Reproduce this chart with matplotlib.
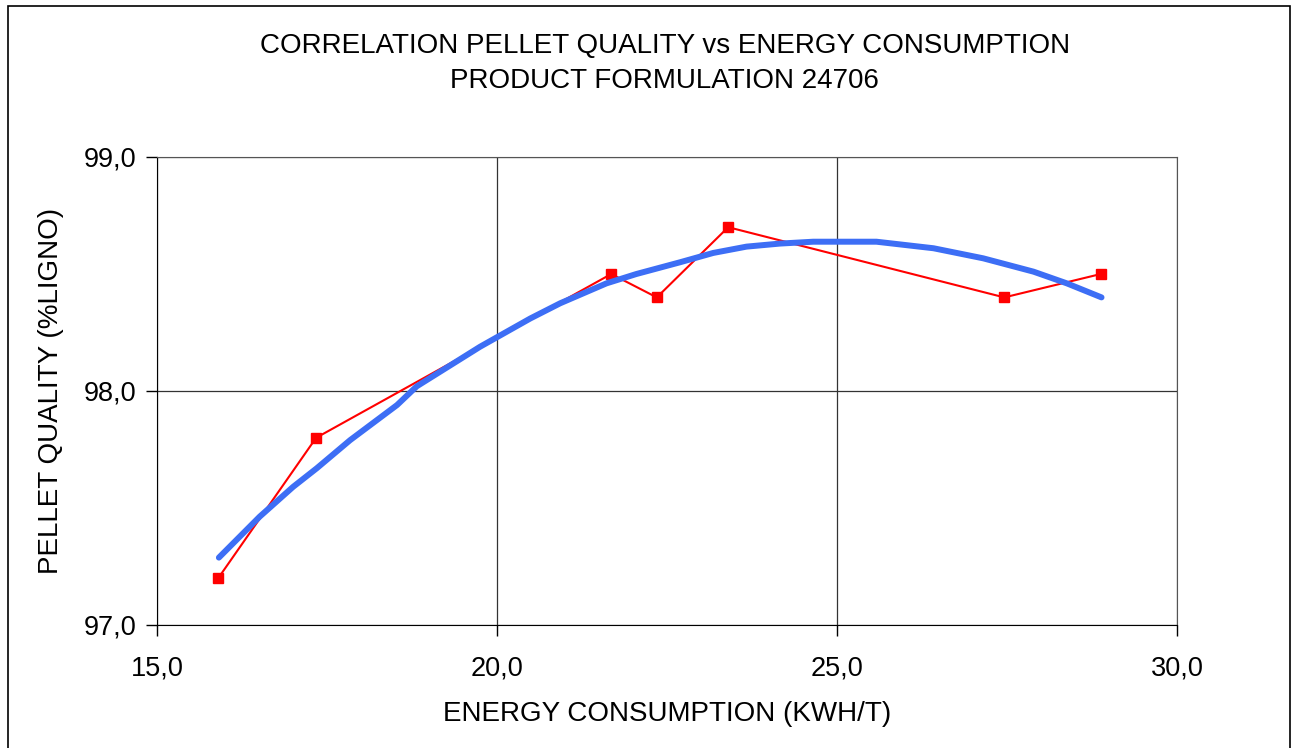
import matplotlib.pyplot as plt
import matplotlib.ticker as mticker
from matplotlib.patches import Rectangle

# measured points (red)
energy = [15.9, 17.34, 21.68, 22.35, 23.4, 27.46, 28.88]
quality = [97.2, 97.8, 98.5, 98.4, 98.7, 98.4, 98.5]

# trend line (blue)
trend_x = [15.91, 16.51, 17.0, 17.35, 17.84, 18.53, 18.82, 19.75, 20.49, 20.93,
           21.61, 22.05, 22.69, 23.18, 23.67, 24.16, 24.65, 25.58, 26.42, 27.15,
           27.89, 28.38, 28.89]
trend_y = [97.288, 97.463, 97.59, 97.67, 97.79, 97.94, 98.02, 98.189, 98.31, 98.375,
           98.46, 98.50, 98.55, 98.59, 98.617, 98.63, 98.638, 98.638, 98.61, 98.567,
           98.51, 98.46, 98.40]

plt.rcParams['font.family'] = ['Liberation Sans', 'DejaVu Sans']

fig = plt.figure(figsize=(12.98, 7.48), dpi=100)
ax = fig.add_axes([157 / 1298, 1 - 625 / 748, 1020 / 1298, 468 / 748])

ax.plot(energy, quality, color='#ff0000', lw=1.5, marker='s', markersize=7,
        markeredgecolor='#ff0000', zorder=3)
ax.plot(trend_x, trend_y, color='#3d6ef5', lw=4.3, solid_capstyle='round', zorder=4)

ax.set_xlim(15, 30)
ax.set_ylim(97, 99)
ax.set_xticks([15, 20, 25, 30])
ax.set_yticks([97, 98, 99])
fmt = mticker.FuncFormatter(lambda v, p: f'{v:.1f}'.replace('.', ','))
ax.xaxis.set_major_formatter(fmt)
ax.yaxis.set_major_formatter(fmt)
ax.tick_params(direction='out', length=8, width=1, labelsize=19.5, colors='black')
ax.tick_params(axis='x', pad=14)
ax.tick_params(axis='y', pad=7)
ax.grid(True, color='#333333', lw=0.9)
ax.set_axisbelow(True)
for side in ['top', 'right']:
    ax.spines[side].set_color('#555555')
for side in ['left', 'bottom']:
    ax.spines[side].set_color('black')

ax.set_xlabel('ENERGY CONSUMPTION (KWH/T)', fontsize=20, labelpad=14)
ax.set_ylabel('PELLET QUALITY (%LIGNO)', fontsize=20, labelpad=14)

fig.text(0.512, 1 - 46 / 748, 'CORRELATION PELLET QUALITY vs ENERGY CONSUMPTION',
         ha='center', va='center', fontsize=20)
fig.text(0.512, 1 - 81 / 748, 'PRODUCT FORMULATION 24706',
         ha='center', va='center', fontsize=20)

fig.patches.append(Rectangle((8 / 1298, -0.01), 1282 / 1298, 1 - 6 / 748 + 0.01,
                             transform=fig.transFigure, fill=False,
                             edgecolor='black', lw=1.2))

fig.savefig('out.png', dpi=100)
